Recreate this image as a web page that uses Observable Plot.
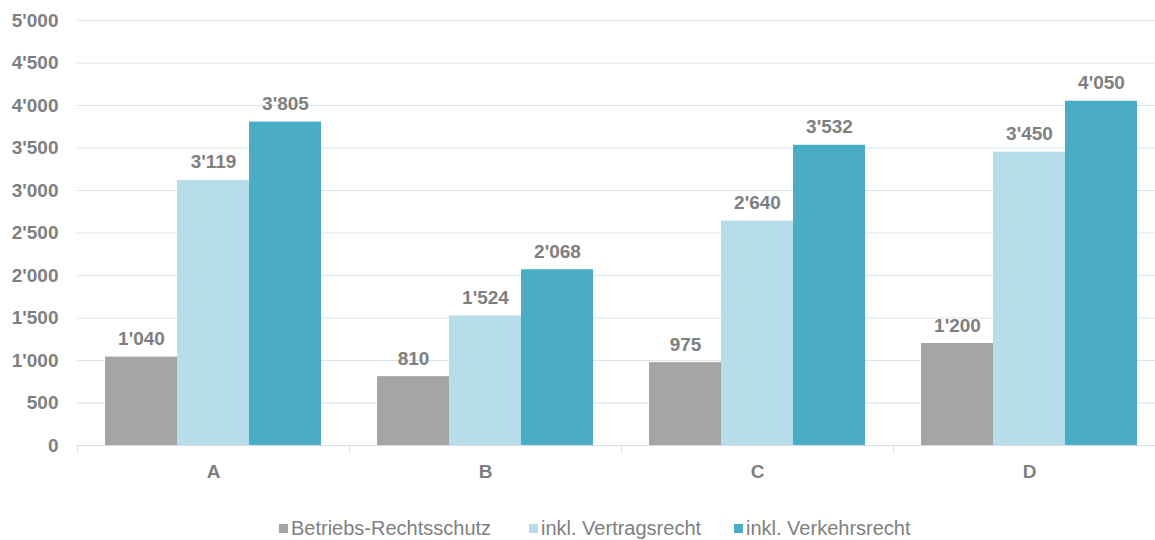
<!DOCTYPE html>
<html>
<head>
<meta charset="utf-8">
<script src="https://cdn.jsdelivr.net/npm/d3@7"></script>
<script src="https://cdn.jsdelivr.net/npm/@observablehq/plot@0.6"></script>
<style>
  html, body { margin: 0; padding: 0; background: #fff; overflow: hidden; width: 1155px; height: 540px; }
  #chart { width: 1165px; }
  #chart svg { display: block; max-width: none !important; }
  #legend { position: relative; height: 40px; font-family: "Liberation Sans", Arial, sans-serif; font-size: 20px; color: #7f7f7f; }
  .item { position: absolute; top: 17px; display: flex; align-items: center; white-space: nowrap; }
  .sw { width: 9px; height: 9px; margin-right: 3px; }
</style>
</head>
<body>
<div id="chart"></div>
<div id="legend"></div>
<script>
const categories = ["A", "B", "C", "D"];
const series = ["Betriebs-Rechtsschutz", "inkl. Vertragsrecht", "inkl. Verkehrsrecht"];
const betriebs = [1040, 810, 975, 1200];
const vertrag = [3119, 1524, 2640, 3450];
const verkehr = [3805, 2068, 3532, 4050];
const yTicks = [0, 500, 1000, 1500, 2000, 2500, 3000, 3500, 4000, 4500, 5000];
const colors = ["#a5a5a5", "#b7dde8", "#4bacc6"];

const valuesBySeries = [betriebs, vertrag, verkehr];
const data = categories.flatMap((c, i) =>
  series.map((s, j) => ({ cat: c, series: s, value: valuesBySeries[j][i] }))
);

const fmt = d3.formatLocale({ decimal: ".", thousands: "'", grouping: [3], currency: ["", ""] }).format(",d");

const W = 1165, H = 500, mT = 20, mB = 55, mL = 77;
const textColor = "#7f7f7f";

const chart = Plot.plot({
  width: W,
  height: H,
  marginLeft: mL,
  marginRight: 0,
  marginTop: mT,
  marginBottom: mB,
  style: { fontFamily: "'Liberation Sans', Arial, sans-serif", fontSize: "19px", fontWeight: "bold", color: textColor, background: "#fff", maxWidth: "none" },
  fx: { domain: categories, padding: 0, label: null, axis: null },
  x: { domain: series, paddingInner: 0, paddingOuter: 0.375, axis: null },
  y: { domain: [0, 5000], label: null, axis: null },
  color: { domain: series, range: colors },
  marks: [
    Plot.gridY(yTicks, { stroke: "#d6e4f0", strokeOpacity: 1, strokeWidth: 1 }),
    Plot.barY(data, { fx: "cat", x: "series", y: "value", fill: "series" }),
    Plot.text(data, { fx: "cat", x: "series", y: "value", text: d => fmt(d.value), dy: -18, lineAnchor: "middle", fill: textColor, fontSize: 19, fontWeight: "bold" }),
    Plot.ruleY([0], { stroke: "#d9dde3", strokeWidth: 1 }),
    Plot.frame({ anchor: "left", stroke: "#d9dde3", insetTop: H - mT - mB, insetBottom: -6 }),
    Plot.axisFx({ anchor: "bottom", tickSize: 0, tickPadding: 19, label: null, fill: textColor }),
    Plot.axisY(yTicks, { anchor: "left", tickSize: 0, tickPadding: 19, tickFormat: fmt, label: null, fill: textColor })
  ]
});
document.getElementById("chart").appendChild(chart);

const legend = document.getElementById("legend");
const lefts = [279, 529, 734];
series.forEach((s, i) => {
  const it = document.createElement("div");
  it.className = "item";
  it.style.left = lefts[i] + "px";
  const sw = document.createElement("span");
  sw.className = "sw";
  sw.style.background = colors[i];
  const t = document.createElement("span");
  t.textContent = s;
  it.appendChild(sw);
  it.appendChild(t);
  legend.appendChild(it);
});
</script>
</body>
</html>
